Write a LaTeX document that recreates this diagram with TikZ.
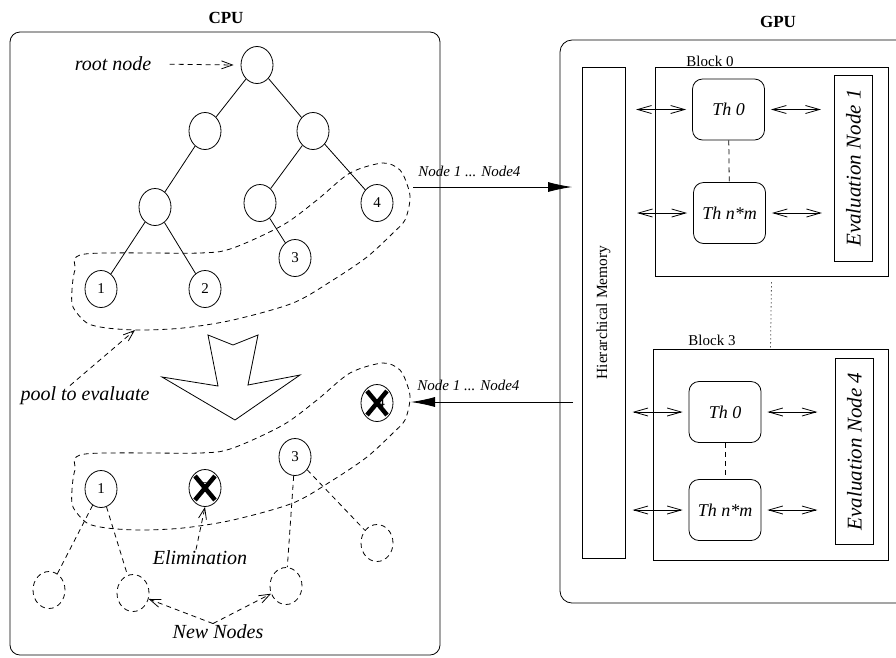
\documentclass[tikz,border=0pt]{standalone}
\usepackage{fontspec}
\setmainfont{Liberation Serif}
\usetikzlibrary{shapes.geometric,arrows.meta}
\newcommand{\myfs}[1]{\fontsize{#1pt}{#1pt}\selectfont}
\begin{document}
\begin{tikzpicture}[x=1pt,y=-1pt,line width=0.8pt,
  dsh/.style={dash pattern=on 5pt off 4pt},
  tn/.style={ellipse,draw,minimum width=32pt,minimum height=37pt,inner sep=0pt,font=\myfs{15}},
  nn/.style={tn,dsh},
  thbox/.style={draw,rounded corners=10pt,minimum width=72pt,minimum height=61pt,inner sep=0pt,font=\myfs{18}\itshape},
  evbox/.style={draw,rotate=90,minimum width=186pt,minimum height=38pt,inner sep=0pt,font=\myfs{21}\itshape},
  blk/.style={draw,inner sep=0pt},
  lbl/.style={font=\myfs{20}\itshape,inner sep=1pt},
  small/.style={font=\myfs{15}\itshape,inner sep=0pt},
  blab/.style={font=\myfs{15},inner sep=0pt},
  darr/.style={dsh,-{Straight Barb[length=11pt,width=8pt]}},
  dbl/.style={{Straight Barb[length=14pt,width=8pt]}-{Straight Barb[length=14pt,width=8pt]}},
  bigarr/.style={-{Latex[length=24pt,width=10pt]}},
  xmark/.style={line width=4.5pt}]
\useasboundingbox (0,0) rectangle (896,657);
\clip (0,0) rectangle (896,657);

% ---------- CPU ----------
\node[font=\myfs{17}\bfseries] (cpu) at (226,18) {CPU};
\draw[rounded corners=10pt] (10,32) rectangle (440,655);

% tree
\node[tn] (root) at (257,65) {};
\node[tn] (a) at (205,131) {};
\node[tn] (b) at (313,131) {};
\node[tn] (c) at (155,207) {};
\node[tn] (d) at (260,203) {};
\node[tn] (n4) at (377,203) {4};
\node[tn] (n3) at (295,258) {3};
\node[tn] (n1) at (101,289) {1};
\node[tn] (n2) at (205,289) {2};
\draw (root) -- (a);
\draw (root) -- (b);
\draw (a) -- (c);
\draw (b) -- (d);
\draw (b) -- (n4);
\draw (c) -- (n1);
\draw (c) -- (n2);
\draw (d) -- (n3);

\node[lbl] (rootlbl) at (113,64) {root node};
\draw[darr,shorten <=17pt] (rootlbl.east) -- ([xshift=-7pt]root.west);

% pool outlines
\foreach \dy in {0,200}{
\begin{scope}[shift={(0,\dy)}]
\draw[dsh] plot[smooth cycle,tension=0.5] coordinates {(85,254) (200,253) (233,248) (283,225) (317,200) (350,173) (383,163) (400,170) (408,187) (410,200) (405,220) (393,233) (367,257) (333,280) (293,303) (233,320) (183,328) (140,330) (107,328) (87,323) (73,307) (72,290) (75,270)};
\end{scope}}

\node[lbl] (pool) at (85,396) {pool to evaluate};
\coordinate (poolpt) at (135,330);
\draw[darr] ([xshift=-15pt]pool.north) -- (poolpt);

% big hollow arrow
\draw (208,335) -- (233,345) -- (258,335) -- (248,385) -- (300,375) -- (235,420) -- (162,377) -- (218,386) -- cycle;

% evaluated pool
\node[tn] (m1) at (101,489) {1};
\node[tn] (m2) at (205,488) {2};
\node[tn] (m3) at (295,457) {3};
\node[tn] (m4) at (377,403) {\hspace*{8pt}4};
\draw[xmark] ([shift={(-10,-12)}]m2.center) -- ([shift={(10,12)}]m2.center);
\draw[xmark] ([shift={(10,-12)}]m2.center) -- ([shift={(-10,12)}]m2.center);
\draw[xmark] ([shift={(-10,-12)}]m4.center) -- ([shift={(10,12)}]m4.center);
\draw[xmark] ([shift={(10,-12)}]m4.center) -- ([shift={(-10,12)}]m4.center);

% new nodes
\node[nn] (q1) at (49,590) {};
\node[nn] (q2) at (133,593) {};
\node[nn] (q3) at (286,586) {};
\node[nn] (q4) at (377,543) {};
\draw[dsh] (m1) -- (q1);
\draw[dsh] (m1) -- (q2);
\draw[dsh] (m3) -- (q3);
\draw[dsh] (m3) -- (q4);

\node[lbl] (elim) at (200,558) {Elimination};
\draw[darr] ([xshift=-4pt]elim.north) -- (m2.south);
\node[lbl] (newn) at (218,632) {New Nodes};
\draw[darr] ([xshift=-5pt]newn.north) -- (q2);
\draw[darr] ([xshift=-5pt]newn.north) -- (q3);

% ---------- transfers ----------
\coordinate (t1s) at (413,187);
\coordinate (t1e) at (572,187);
\draw[bigarr] (t1s) -- (t1e);
\node[small,anchor=west] (t1l) at (418,171) {Node 1 ... Node4};
\coordinate (t2s) at (573,402);
\coordinate (t2e) at (411,402);
\draw[bigarr] (t2s) -- (t2e);
\node[small,anchor=west] (t2l) at (417,385) {Node 1 ... Node4};

% ---------- GPU ----------
\node[font=\myfs{17}\bfseries] (gpu) at (778,22) {GPU};
\draw[rounded corners=12pt] (560,40) rectangle (940,603);

\node[blk,rotate=90,minimum width=491pt,minimum height=43pt,font=\myfs{15.5}] (hm) at (603.5,312.5) {Hierarchical Memory};

\node[blk,minimum width=233pt,minimum height=209pt] (b0) at (771.5,171.5) {};
\node[blab] (b0l) at (710,61) {Block 0};
\node[blk,minimum width=235pt,minimum height=211pt] (b3) at (770.5,454.5) {};
\node[blab] (b3l) at (712,340) {Block 3};
\draw[dash pattern=on 1pt off 3pt] ([yshift=-6pt]b0.south) -- (b3.north);

\node[thbox] (th0a) at (728.5,109.5) {Th 0};
\node[thbox] (thna) at (729.5,213) {Th n*m};
\node[evbox] (ev1) at (853.5,168) {Evaluation Node 1};
\draw[dsh] (th0a) -- (thna);

\node[thbox] (th0b) at (725,412) {Th 0};
\node[thbox] (thnb) at (725,510) {Th n*m};
\node[evbox] (ev4) at (854.5,451.5) {Evaluation Node 4};
\draw[dsh] (th0b) -- (thnb);

\foreach \t in {th0a,thna,th0b,thnb}{
  \draw[dbl] ([xshift=-56pt]\t.west) -- ([xshift=-6pt]\t.west);
  \draw[dbl] ([xshift=6pt]\t.east) -- ([xshift=56pt]\t.east);
}
\end{tikzpicture}
\end{document}
